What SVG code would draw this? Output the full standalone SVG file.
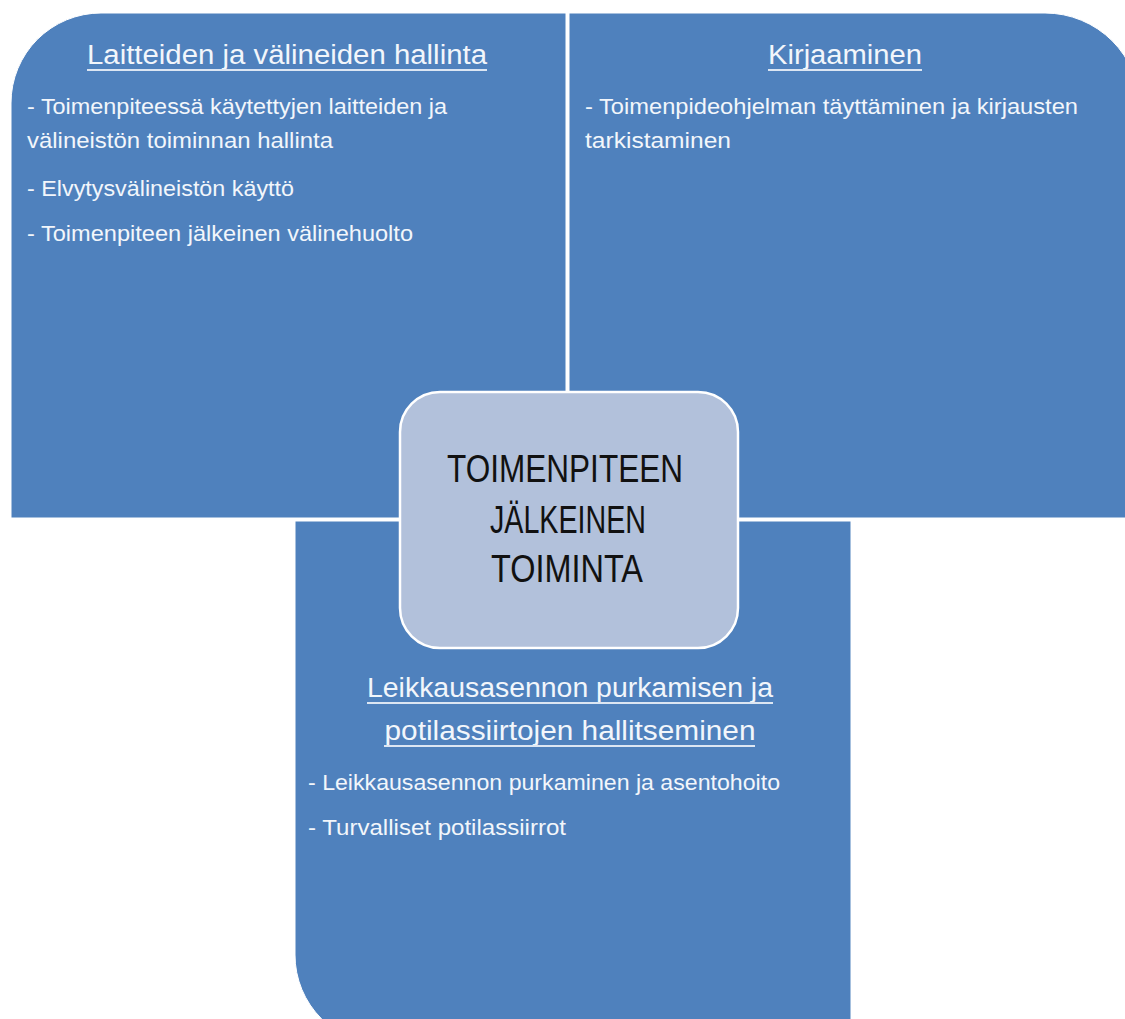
<svg xmlns="http://www.w3.org/2000/svg" width="1125" height="1019" viewBox="0 0 1125 1019">
<style>
.panel{fill:#4F81BD;stroke:#ffffff;stroke-width:1}
.hub{fill:#B2C1DB;stroke:#ffffff;stroke-width:2.5}
.t{font-family:"Liberation Sans",Arial,sans-serif;fill:#F2F6FB}
.title{font-size:27px}
.item{font-size:22px}
.hubtxt{font-family:"Liberation Sans",Arial,sans-serif;font-size:38px;fill:#111111}
.ul{stroke:#DCE6F3;stroke-width:2}
</style>
<rect width="1125" height="1019" fill="#ffffff"/>
<g id="node-laitteet">
<path class="panel" d="M11,518 L11,103 A90,90 0 0 1 101,13 L566,13 L566,518 Z"/>
<text class="t title" x="287" y="64" text-anchor="middle" textLength="400" lengthAdjust="spacingAndGlyphs">Laitteiden ja välineiden hallinta</text>
<line class="ul" x1="87" y1="70" x2="487" y2="70"/>
<text class="t item" x="27" y="114" textLength="420" lengthAdjust="spacingAndGlyphs">- Toimenpiteessä käytettyjen laitteiden ja</text>
<text class="t item" x="27" y="148" textLength="306" lengthAdjust="spacingAndGlyphs">välineistön toiminnan hallinta</text>
<text class="t item" x="27" y="196" textLength="267" lengthAdjust="spacingAndGlyphs">- Elvytysvälineistön käyttö</text>
<text class="t item" x="27" y="241" textLength="386" lengthAdjust="spacingAndGlyphs">- Toimenpiteen jälkeinen välinehuolto</text>
</g>
<g id="node-kirjaaminen">
<path class="panel" d="M569,518 L569,13 L1045,13 A95,95 0 0 1 1140,108 L1140,518 Z"/>
<text class="t title" x="845" y="64" text-anchor="middle" textLength="154" lengthAdjust="spacingAndGlyphs">Kirjaaminen</text>
<line class="ul" x1="768" y1="70" x2="922" y2="70"/>
<text class="t item" x="585" y="114" textLength="493" lengthAdjust="spacingAndGlyphs">- Toimenpideohjelman täyttäminen ja kirjausten</text>
<text class="t item" x="585" y="148" textLength="146" lengthAdjust="spacingAndGlyphs">tarkistaminen</text>
</g>
<g id="node-leikkausasento">
<path class="panel" d="M295,521 L851,521 L851,1045 L385,1045 A90,90 0 0 1 295,955 Z"/>
<text class="t title" x="570" y="697" text-anchor="middle" textLength="406" lengthAdjust="spacingAndGlyphs">Leikkausasennon purkamisen ja</text>
<line class="ul" x1="367" y1="703" x2="773" y2="703"/>
<text class="t title" x="570" y="740" text-anchor="middle" textLength="371" lengthAdjust="spacingAndGlyphs">potilassiirtojen hallitseminen</text>
<line class="ul" x1="384" y1="746" x2="755" y2="746"/>
<text class="t item" x="308" y="790" textLength="472" lengthAdjust="spacingAndGlyphs">- Leikkausasennon purkaminen ja asentohoito</text>
<text class="t item" x="308" y="835" textLength="258" lengthAdjust="spacingAndGlyphs">- Turvalliset potilassiirrot</text>
</g>
<g id="node-center">
<rect class="hub" x="400" y="392" width="338" height="256" rx="40" ry="40"/>
<text class="hubtxt" x="565" y="482" text-anchor="middle" textLength="236" lengthAdjust="spacingAndGlyphs">TOIMENPITEEN</text>
<text class="hubtxt" x="568" y="533" text-anchor="middle" textLength="156" lengthAdjust="spacingAndGlyphs">JÄLKEINEN</text>
<text class="hubtxt" x="567" y="582" text-anchor="middle" textLength="152" lengthAdjust="spacingAndGlyphs">TOIMINTA</text>
</g>
<g id="connectors"/>
</svg>
